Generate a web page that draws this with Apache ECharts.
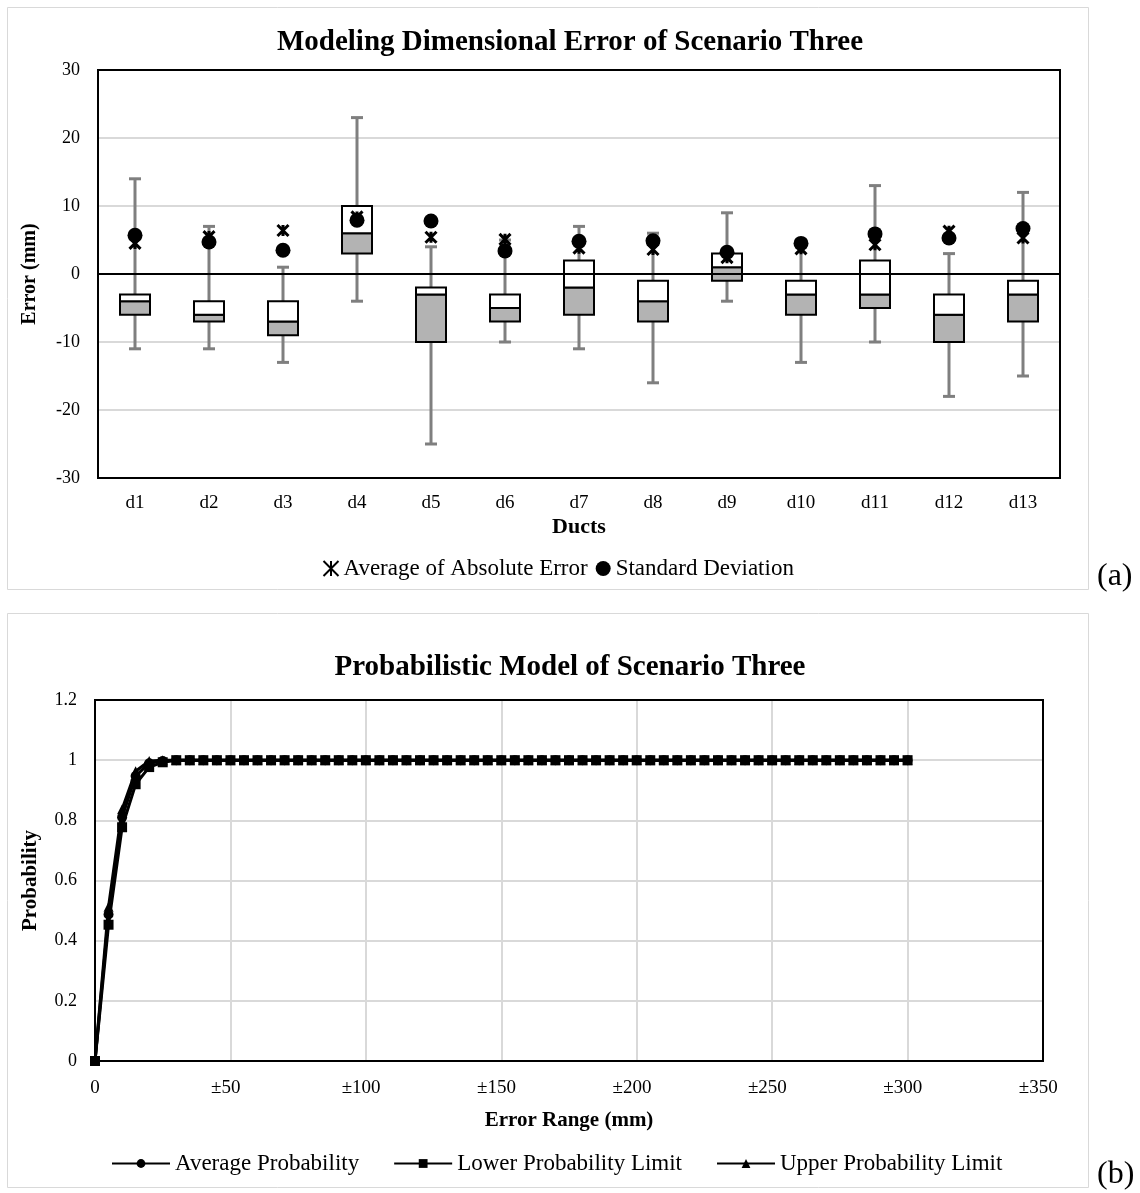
<!DOCTYPE html>
<html>
<head>
<meta charset="utf-8">
<script src="https://cdn.jsdelivr.net/npm/echarts@6/dist/echarts.min.js"></script>
<style>
html, body { margin: 0; padding: 0; background: #fff; }
#main { width: 1140px; height: 1193px; }
</style>
</head>
<body>
<div id="main"></div>
<script>
// 数据 (a): 箱线图
var ducts = ['d1', 'd2', 'd3', 'd4', 'd5', 'd6', 'd7', 'd8', 'd9', 'd10', 'd11', 'd12', 'd13'];
var whiskerMin = [-11, -11, -13, -4, -25, -10, -11, -16, -4, -13, -10, -18, -15];
var q1 = [-6, -7, -9, 3, -10, -7, -6, -7, -1, -6, -5, -10, -7];
var median = [-4, -6, -7, 6, -3, -5, -2, -4, 1, -3, -3, -6, -3];
var q3 = [-3, -4, -4, 10, -2, -3, 2, -1, 3, -1, 2, -3, -1];
var whiskerMax = [14, 7, 1, 23, 4, 5, 7, 6, 9, 4, 13, 3, 12];
var avgAbsError = [4.5, 5.5, 6.4, 8.4, 5.4, 5.1, 3.8, 3.6, 2.4, 3.7, 4.3, 6.3, 5.3];
var stdDev = [5.7, 4.7, 3.5, 7.9, 7.8, 3.4, 4.8, 4.9, 3.2, 4.5, 5.9, 5.3, 6.7];

// 数据 (b): 概率模型
var errorRange = [0, 5, 10, 15, 20, 25, 30, 35, 40, 45, 50, 55, 60, 65, 70, 75, 80, 85, 90, 95,
    100, 105, 110, 115, 120, 125, 130, 135, 140, 145, 150, 155, 160, 165, 170, 175, 180, 185, 190, 195,
    200, 205, 210, 215, 220, 225, 230, 235, 240, 245, 250, 255, 260, 265, 270, 275, 280, 285, 290, 295, 300];
var avgProb = [0, 0.487, 0.81, 0.947, 0.99, 0.997, 1, 1, 1, 1, 1, 1, 1, 1, 1, 1, 1, 1, 1, 1,
    1, 1, 1, 1, 1, 1, 1, 1, 1, 1, 1, 1, 1, 1, 1, 1, 1, 1, 1, 1,
    1, 1, 1, 1, 1, 1, 1, 1, 1, 1, 1, 1, 1, 1, 1, 1, 1, 1, 1, 1, 1];
var lowerProb = [0, 0.453, 0.777, 0.92, 0.977, 0.993, 1, 1, 1, 1, 1, 1, 1, 1, 1, 1, 1, 1, 1, 1,
    1, 1, 1, 1, 1, 1, 1, 1, 1, 1, 1, 1, 1, 1, 1, 1, 1, 1, 1, 1,
    1, 1, 1, 1, 1, 1, 1, 1, 1, 1, 1, 1, 1, 1, 1, 1, 1, 1, 1, 1, 1];
var upperProb = [0, 0.513, 0.837, 0.963, 0.997, 1, 1, 1, 1, 1, 1, 1, 1, 1, 1, 1, 1, 1, 1, 1,
    1, 1, 1, 1, 1, 1, 1, 1, 1, 1, 1, 1, 1, 1, 1, 1, 1, 1, 1, 1,
    1, 1, 1, 1, 1, 1, 1, 1, 1, 1, 1, 1, 1, 1, 1, 1, 1, 1, 1, 1, 1];

var FONT = "'Liberation Serif', 'Times New Roman', serif";
var chart = echarts.init(document.getElementById('main'));

var boxData = [];
for (var i = 0; i < ducts.length; i++) {
    boxData.push([i, whiskerMin[i], q1[i], median[i], q3[i], whiskerMax[i]]);
}
function pairs(xs, ys) {
    var out = [];
    for (var i = 0; i < xs.length; i++) out.push([xs[i], ys[i]]);
    return out;
}

// 箱体: 上半白色, 下半灰色
function renderBox(params, api) {
    var x = api.value(0);
    var pMin = api.coord([x, api.value(1)]);
    var pQ1 = api.coord([x, api.value(2)]);
    var pMed = api.coord([x, api.value(3)]);
    var pQ3 = api.coord([x, api.value(4)]);
    var pMax = api.coord([x, api.value(5)]);
    var cx = pMin[0], hw = 15, cw = 6;
    var wStyle = { stroke: '#7f7f7f', lineWidth: 3 };
    return {
        type: 'group',
        children: [
            { type: 'line', shape: { x1: cx, y1: pMax[1], x2: cx, y2: pQ3[1] }, style: wStyle },
            { type: 'line', shape: { x1: cx - cw, y1: pMax[1], x2: cx + cw, y2: pMax[1] }, style: wStyle },
            { type: 'line', shape: { x1: cx, y1: pQ1[1], x2: cx, y2: pMin[1] }, style: wStyle },
            { type: 'line', shape: { x1: cx - cw, y1: pMin[1], x2: cx + cw, y2: pMin[1] }, style: wStyle },
            { type: 'rect', shape: { x: cx - hw, y: pMed[1], width: hw * 2, height: pQ1[1] - pMed[1] },
              style: { fill: '#b3b3b3', stroke: '#000', lineWidth: 2 } },
            { type: 'rect', shape: { x: cx - hw, y: pQ3[1], width: hw * 2, height: pMed[1] - pQ3[1] },
              style: { fill: '#fff', stroke: '#000', lineWidth: 2 } }
        ]
    };
}

var starPath = 'path://M0,0L10,10M10,0L0,10M5,0L5,10';

var option = {
    animation: false,
    backgroundColor: '#fff',
    textStyle: { fontFamily: FONT, color: '#000' },
    graphic: [
        { type: 'rect', shape: { x: 7.5, y: 7.5, width: 1081, height: 582 },
          style: { fill: 'none', stroke: '#d9d9d9', lineWidth: 1 } },
        { type: 'rect', shape: { x: 7.5, y: 613.5, width: 1081, height: 574 },
          style: { fill: 'none', stroke: '#d9d9d9', lineWidth: 1 } },
        { type: 'text', left: 1097, top: 561, style: { text: '(a)', font: '32px ' + FONT, fill: '#000' } },
        { type: 'text', left: 1097, top: 1159, style: { text: '(b)', font: '32px ' + FONT, fill: '#000' } }
    ],
    title: [
        { text: 'Modeling Dimensional Error of Scenario Three', left: 'center', top: 23,
          textStyle: { fontFamily: FONT, fontSize: 29, fontWeight: 'bold', color: '#000' } },
        { text: 'Probabilistic Model of Scenario Three', left: 'center', top: 648,
          textStyle: { fontFamily: FONT, fontSize: 29, fontWeight: 'bold', color: '#000' } }
    ],
    legend: [
        { data: ['Average of Absolute Error', 'Standard Deviation'], top: 552, left: 316,
          itemGap: 8, itemWidth: 15, itemHeight: 15,
          textStyle: { fontFamily: FONT, fontSize: 23, color: '#000' } },
        { data: ['Average Probability', 'Lower Probability Limit', 'Upper Probability Limit'],
          top: 1147, left: 106, itemGap: 34, itemWidth: 58, itemHeight: 11,
          textStyle: { fontFamily: FONT, fontSize: 23, color: '#000' } }
    ],
    grid: [
        { left: 98, right: 80, top: 70, height: 408, show: true, borderColor: '#000', borderWidth: 2, z: 3 },
        { left: 95, right: 97, top: 700, height: 361, show: true, borderColor: '#000', borderWidth: 2, z: 3 }
    ],
    xAxis: [
        { type: 'category', gridIndex: 0, data: ducts,
          name: 'Ducts', nameLocation: 'middle', nameGap: 38,
          nameTextStyle: { fontFamily: FONT, fontSize: 22, fontWeight: 'bold', color: '#000' },
          axisLine: { onZero: false, lineStyle: { color: '#000', width: 2 } },
          axisTick: { show: false },
          axisLabel: { fontFamily: FONT, fontSize: 19, color: '#000', margin: 16 },
          splitLine: { show: false } },
        { type: 'value', gridIndex: 1, min: 0, max: 350, interval: 50,
          name: 'Error Range (mm)', nameLocation: 'middle', nameGap: 49,
          nameTextStyle: { fontFamily: FONT, fontSize: 21, fontWeight: 'bold', color: '#000' },
          axisLine: { onZero: false, lineStyle: { color: '#000', width: 2 } },
          axisTick: { show: false },
          axisLabel: { fontFamily: FONT, fontSize: 19, color: '#000', margin: 18,
              formatter: function (v) { return v === 0 ? '0' : '\u00b1' + v + '  '; } },
          splitLine: { show: true, showMinLine: false, showMaxLine: false,
              lineStyle: { color: '#d9d9d9', width: 2 } } }
    ],
    yAxis: [
        { type: 'value', gridIndex: 0, min: -30, max: 30, interval: 10,
          name: 'Error (mm)', nameLocation: 'middle', nameGap: 58, nameRotate: 90,
          nameTextStyle: { fontFamily: FONT, fontSize: 20, fontWeight: 'bold', color: '#000' },
          axisLine: { show: true, lineStyle: { color: '#000', width: 2 } },
          axisTick: { show: false },
          axisLabel: { fontFamily: FONT, fontSize: 18, color: '#000', margin: 18 },
          splitLine: { showMinLine: false, showMaxLine: false, lineStyle: { color: '#d9d9d9', width: 2 } } },
        { type: 'value', gridIndex: 1, min: 0, max: 1.2, interval: 0.2,
          name: 'Probability', nameLocation: 'middle', nameGap: 54, nameRotate: 90,
          nameTextStyle: { fontFamily: FONT, fontSize: 21, fontWeight: 'bold', color: '#000' },
          axisLine: { show: true, lineStyle: { color: '#000', width: 2 } },
          axisTick: { show: false },
          axisLabel: { fontFamily: FONT, fontSize: 18, color: '#000', margin: 18,
              formatter: function (v) { return String(Math.round(v * 10) / 10); } },
          splitLine: { showMinLine: false, showMaxLine: false, lineStyle: { color: '#d9d9d9', width: 2 } } }
    ],
    series: [
        { name: 'box', type: 'custom', xAxisIndex: 0, yAxisIndex: 0, renderItem: renderBox,
          encode: { x: 0, y: [1, 2, 3, 4, 5] }, data: boxData, z: 3,
          markLine: { silent: true, symbol: 'none', label: { show: false },
              lineStyle: { color: '#000', width: 2, type: 'solid' }, data: [{ yAxis: 0 }] } },
        { name: 'Average of Absolute Error', type: 'scatter', xAxisIndex: 0, yAxisIndex: 0,
          symbol: starPath, symbolSize: 11, z: 5,
          itemStyle: { color: 'none', borderColor: '#000', borderWidth: 3, opacity: 1 },
          data: avgAbsError },
        { name: 'Standard Deviation', type: 'scatter', xAxisIndex: 0, yAxisIndex: 0,
          symbol: 'circle', symbolSize: 15, z: 4,
          itemStyle: { color: '#000', opacity: 1 },
          data: stdDev },
        { name: 'Average Probability', type: 'line', xAxisIndex: 1, yAxisIndex: 1,
          symbol: 'circle', symbolSize: 10, z: 3,
          lineStyle: { color: '#000', width: 3 }, itemStyle: { color: '#000' },
          data: pairs(errorRange, avgProb) },
        { name: 'Upper Probability Limit', type: 'line', xAxisIndex: 1, yAxisIndex: 1,
          symbol: 'triangle', symbolSize: 10, z: 4,
          lineStyle: { color: '#000', width: 3 }, itemStyle: { color: '#000' },
          data: pairs(errorRange, upperProb) },
        { name: 'Lower Probability Limit', type: 'line', xAxisIndex: 1, yAxisIndex: 1,
          symbol: 'rect', symbolSize: 10, z: 5,
          lineStyle: { color: '#000', width: 3 }, itemStyle: { color: '#000' },
          data: pairs(errorRange, lowerProb) }
    ]
};
chart.setOption(option);
</script>
</body>
</html>
